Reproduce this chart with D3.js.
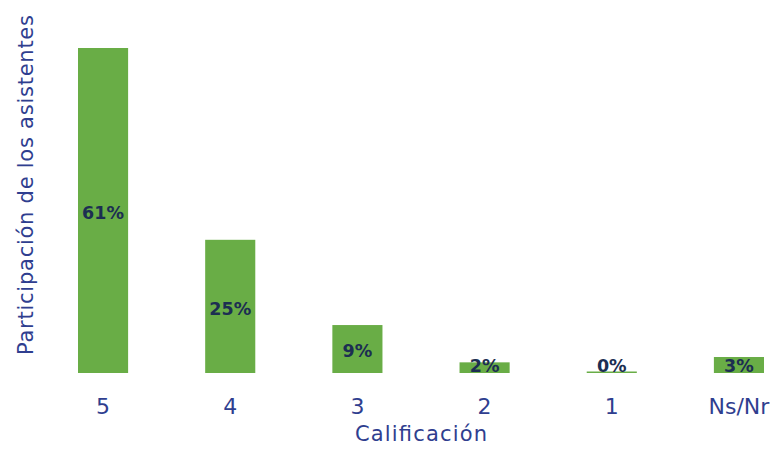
<!DOCTYPE html>
<html><head><meta charset="utf-8">
<script src="https://cdn.jsdelivr.net/npm/d3@7"></script>
<style>body{margin:0;background:#fff}svg{display:block}</style>
</head><body>
<svg id="c" width="774" height="452"></svg>
<script>
const categories = ["5","4","3","2","1","Ns/Nr"];
const values = [61,25,9,2,0,3];
const valueLabels = ["61%","25%","9%","2%","0%","3%"];

const svg = d3.select("#c");
const baseline = 373;
const x = d3.scaleBand().domain(categories).range([78,764]).paddingInner(0.606).paddingOuter(0);
const y = d3.scaleLinear().domain([0,61]).range([baseline,48]);

const textBlue = "#2f3e8f";
const green = "#69ad46";

svg.selectAll("rect.bar").data(values).join("rect")
  .attr("class","bar")
  .attr("x",(d,i)=>x(categories[i]))
  .attr("width",x.bandwidth())
  .attr("y",d=>Math.min(y(d), baseline-1.5))
  .attr("height",d=>Math.max(baseline-y(d),1.5))
  .attr("fill",green);

svg.selectAll("text.val").data(values).join("text")
  .attr("class","val")
  .attr("x",(d,i)=>x(categories[i])+x.bandwidth()/2)
  .attr("y",d=>Math.min((y(d)+baseline)/2+2, 366))
  .attr("dy","0.35em")
  .attr("text-anchor","middle")
  .attr("font-family","'DejaVu Sans', sans-serif")
  .attr("font-weight","bold")
  .attr("font-size",17.5)
  .attr("fill","#1c2e52")
  .text((d,i)=>valueLabels[i]);

const xAxis = d3.axisBottom(x).tickSize(0).tickPadding(0);
const gx = svg.append("g").attr("transform",`translate(0,${baseline})`).call(xAxis);
gx.select(".domain").remove();
gx.selectAll("text")
  .attr("y",41)
  .attr("dy","0")
  .attr("font-family","'DejaVu Sans', sans-serif")
  .attr("font-size",22)
  .attr("fill",textBlue);

svg.append("text")
  .attr("x",421)
  .attr("y",441)
  .attr("text-anchor","middle")
  .attr("font-family","'DejaVu Sans', sans-serif")
  .attr("font-size",21)
  .attr("textLength",132)
  .attr("fill",textBlue)
  .text("Calificación");

svg.append("text")
  .attr("transform","translate(33,185) rotate(-90)")
  .attr("text-anchor","middle")
  .attr("font-family","'DejaVu Sans', sans-serif")
  .attr("font-size",21)
  .attr("textLength",340)
  .attr("fill",textBlue)
  .text("Participación de los asistentes");
</script>
</body></html>
